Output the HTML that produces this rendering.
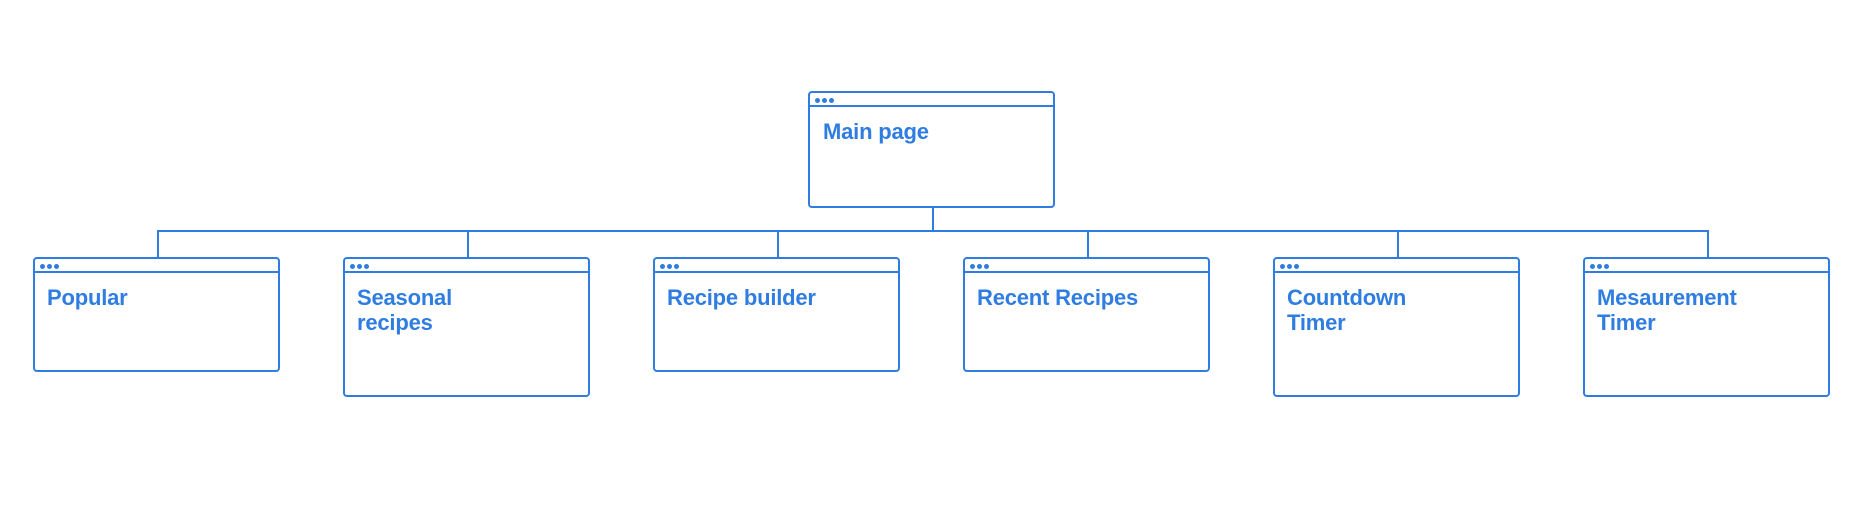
<!DOCTYPE html>
<html><head><meta charset="utf-8"><style>
body{margin:0;background:#fff;width:1866px;height:531px;overflow:hidden;position:relative;font-family:"Liberation Sans",sans-serif}
.b{position:absolute;box-sizing:border-box;border:2px solid #2f7de1;border-radius:4px;width:247px;height:115px}
.b.t{height:140px}
.h{position:absolute;left:0;right:0;top:12px;border-top:2px solid #2f7de1}
.d{position:absolute;top:5px;width:5px;height:5px;border-radius:50%;background:#2f7de1}
.l{position:absolute;left:12px;top:26px;color:#2f7de1;font-weight:bold;font-size:22px;line-height:25px;letter-spacing:-0.2px}
.v{position:absolute;width:2px;background:#2f7de1}
</style></head><body>
<div class="b" style="left:808px;top:91px;height:117px"><div class="h"></div><div class="d" style="left:5px"></div><div class="d" style="left:12px"></div><div class="d" style="left:19px"></div><div class="l" style="left:13px;top:26px">Main page</div></div>
<div class="v" style="left:932px;top:207px;height:24px"></div>
<div class="v" style="left:157px;top:230px;height:2px;width:1552px"></div>

<div class="v" style="left:157px;top:230px;height:28px"></div>
<div class="v" style="left:467px;top:230px;height:28px"></div>
<div class="v" style="left:777px;top:230px;height:28px"></div>
<div class="v" style="left:1087px;top:230px;height:28px"></div>
<div class="v" style="left:1397px;top:230px;height:28px"></div>
<div class="v" style="left:1707px;top:230px;height:28px"></div>

<div class="b" style="left:33px;top:257px"><div class="h"></div><div class="d" style="left:5px"></div><div class="d" style="left:12px"></div><div class="d" style="left:19px"></div><div class="l">Popular</div></div>
<div class="b t" style="left:343px;top:257px"><div class="h"></div><div class="d" style="left:5px"></div><div class="d" style="left:12px"></div><div class="d" style="left:19px"></div><div class="l">Seasonal<br>recipes</div></div>
<div class="b" style="left:653px;top:257px"><div class="h"></div><div class="d" style="left:5px"></div><div class="d" style="left:12px"></div><div class="d" style="left:19px"></div><div class="l">Recipe builder</div></div>
<div class="b" style="left:963px;top:257px"><div class="h"></div><div class="d" style="left:5px"></div><div class="d" style="left:12px"></div><div class="d" style="left:19px"></div><div class="l">Recent Recipes</div></div>
<div class="b t" style="left:1273px;top:257px"><div class="h"></div><div class="d" style="left:5px"></div><div class="d" style="left:12px"></div><div class="d" style="left:19px"></div><div class="l">Countdown<br>Timer</div></div>
<div class="b t" style="left:1583px;top:257px"><div class="h"></div><div class="d" style="left:5px"></div><div class="d" style="left:12px"></div><div class="d" style="left:19px"></div><div class="l">Mesaurement<br>Timer</div></div>
</body></html>
